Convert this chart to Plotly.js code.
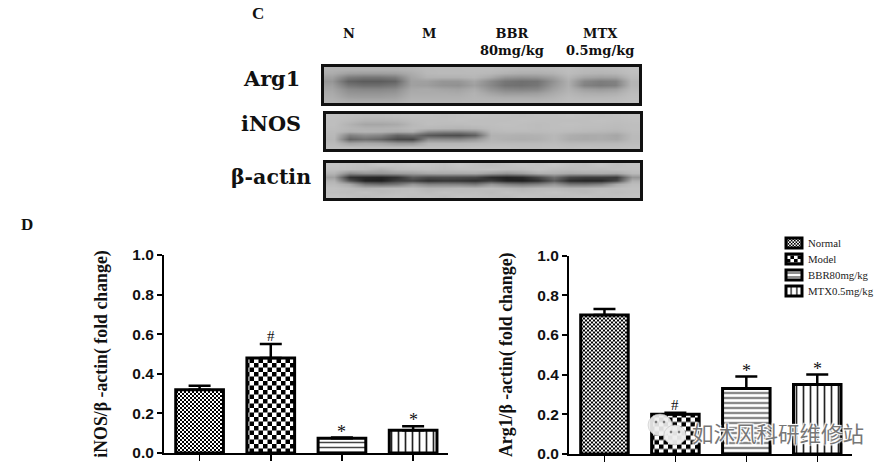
<!DOCTYPE html>
<html><head><meta charset="utf-8">
<script src="https://cdn.plot.ly/plotly-3.0.1.min.js"></script>
<style>html,body{margin:0;padding:0;background:#fff}#c{width:894px;height:472px}</style></head>
<body><div id="c"></div>
<script>
const groups = ['Normal','Model','BBR80mg/kg','MTX0.5mg/kg'];
const inosValues = [0.32,0.48,0.075,0.115];
const inosErrors = [0.02,0.07,0.003,0.02];
const arg1Values = [0.70,0.20,0.33,0.35];
const arg1Errors = [0.03,0.008,0.06,0.05];
const inosMarks = ['','#','*','*'];
const arg1Marks = ['','#','*','*'];
const yTicks = [0,0.2,0.4,0.6,0.8,1.0];
const laneLabels = ['N','M','BBR<br>80mg/kg','MTX<br>0.5mg/kg'];
const blotArg1 = [
[178,178,178,178,178,180,185,186,186,188,188,186,184,184,186,190,186,186,188,192],
[172,160,158,158,160,172,184,186,186,186,184,178,174,174,178,188,182,180,182,190],
[160,125,118,118,125,165,178,178,178,182,170,150,145,148,160,182,165,160,162,186],
[150,100,92,92,100,160,160,150,150,165,140,118,112,115,145,175,135,125,130,180],
[158,118,110,110,118,160,158,148,145,160,138,115,112,118,150,175,130,122,128,180],
[165,140,135,135,140,168,170,165,162,172,150,135,132,135,160,178,160,155,160,184],
[170,150,148,148,152,172,172,172,170,178,165,155,155,158,170,182,174,172,175,188],
[174,160,158,158,162,176,176,176,176,180,176,172,172,172,178,186,182,182,184,190],
[178,172,172,172,172,180,180,180,180,182,182,182,182,182,184,188,188,188,188,192]];
const blotInos = [
[192,190,188,188,190,192,192,190,192,194,192,192,190,192,192,194,192,190,192,194],
[190,186,180,180,182,188,190,190,192,190,190,190,192,190,190,190,190,192,190,192],
[190,178,166,166,170,184,190,188,188,190,190,192,190,188,190,192,190,190,188,190],
[188,182,178,178,180,186,184,182,180,182,188,190,190,188,190,190,188,188,186,190],
[186,176,180,178,172,176,138,130,130,140,184,186,186,186,188,186,184,182,180,188],
[184,128,140,132,100,110,88,80,78,96,178,178,176,178,184,174,170,172,166,186],
[182,100,112,100,72,70,140,138,136,150,180,176,174,176,184,172,170,172,168,186],
[186,162,168,164,150,150,180,180,180,182,186,186,186,186,188,184,184,184,184,188],
[190,190,188,188,188,190,190,190,190,192,192,192,190,190,192,190,192,190,190,192]];
const blotActin = [
[196,194,190,196,194,198,196,192,198,192,188,192,196,194,198,192,190,196,190,194],
[192,190,186,176,188,190,192,188,192,192,194,190,190,196,190,188,190,188,192,192],
[180,140,150,150,156,160,168,170,170,172,160,150,160,176,176,170,172,174,170,186],
[160,50,40,36,50,90,74,76,74,70,44,34,40,70,110,68,60,60,58,150],
[178,84,34,30,60,66,46,52,50,44,60,34,30,46,90,42,36,38,70,176],
[186,168,120,110,120,150,130,132,130,120,150,130,120,130,150,120,118,130,170,188],
[192,188,180,184,186,188,180,182,186,184,188,184,180,186,186,182,184,188,190,192],
[190,188,192,186,190,192,186,192,188,190,186,192,188,190,194,190,186,192,188,192],
[194,192,188,192,194,190,192,188,194,192,190,188,194,192,190,192,194,190,192,194]];

const W=894,H=472;
const dx=(a,b)=>[a/W,b/W], dy=(t,b)=>[1-b/H,1-t/H];
const serif='"Liberation Serif"', wide='"DejaVu Serif"', sans='"Liberation Sans"';
const patterns=[
 {shape:'.',size:4,solidity:0.5,fgcolor:'#000',bgcolor:'#fff',fillmode:'replace'},
 {shape:'.',size:9,solidity:0.5,fgcolor:'#000',bgcolor:'#fff',fillmode:'replace'},
 {shape:'-',size:5,solidity:0.3,fgcolor:'#444',bgcolor:'#fff',fillmode:'replace'},
 {shape:'|',size:7,solidity:0.24,fgcolor:'#222',bgcolor:'#fff',fillmode:'replace'}];
function bars(vals,errs,xa,ya,legend){
 return groups.map((g,i)=>({type:'bar',name:g,x:[g],y:[vals[i]],xaxis:xa,yaxis:ya,width:0.67,showlegend:legend,
  marker:{color:'#fff',pattern:patterns[i],line:{color:'#000',width:3}},
  error_y:{type:'data',array:[errs[i]],arrayminus:[0],symmetric:false,color:'#000',thickness:2.5,width:11}}));
}
function blot(z,xa,ya){return {type:'heatmap',z:z,xaxis:xa,yaxis:ya,zmin:0,zmax:255,zsmooth:'best',showscale:false,hoverinfo:'skip',
 colorscale:[[0,'#000'],[1,'#fff']]};}
const traces=[...bars(inosValues,inosErrors,'x','y',false),...bars(arg1Values,arg1Errors,'x2','y2',true),
 blot(blotArg1,'x3','y3'),blot(blotInos,'x4','y4'),blot(blotActin,'x5','y5')];
const xBase=(dom,range)=>({domain:dom,range:range,type:'category',categoryorder:'array',categoryarray:groups,showgrid:false,zeroline:false,
 showticklabels:false,ticks:'outside',ticklen:6,tickwidth:1.5,tickcolor:'#000',showline:true,linecolor:'#000',linewidth:2,fixedrange:true});
const yBase=(dom,anchor,title)=>({domain:dom,anchor:anchor,range:[0,1],tickvals:yTicks,ticktext:yTicks.map(v=>'<b>'+v.toFixed(1)+'</b>'),showgrid:false,zeroline:false,
 ticks:'outside',ticklen:5,tickwidth:2,tickcolor:'#000',showline:true,linecolor:'#000',linewidth:2,
 tickfont:{family:sans,size:15.5,color:'#111'},
 title:{text:'<b>'+title+'</b>',font:{family:serif,size:17.8,color:'#111'},standoff:20}});
const blotX=dom=>({domain:dom,visible:true,showticklabels:false,ticks:'',showgrid:false,zeroline:false,mirror:true,showline:true,linecolor:'#111',linewidth:3,fixedrange:true});
const blotY=(dom,a)=>({domain:dom,anchor:a,autorange:'reversed',showticklabels:false,ticks:'',showgrid:false,zeroline:false,mirror:true,showline:true,linecolor:'#111',linewidth:3,fixedrange:true});
const txt=(t,x,y,size,extra)=>Object.assign({text:t,xref:'paper',yref:'paper',x:x/W,y:1-y/H,showarrow:false,xanchor:'center',yanchor:'middle',
 font:{family:serif,size:size,color:'#111'}},extra||{});
const anns=[txt('<b>C</b>',258,13,17),txt('<b>D</b>',27,224,17)];
[349,429,512,600].forEach((x,i)=>anns.push(txt('<b>'+laneLabels[i]+'</b>',x,i<2?33:42,13,{align:'center',font:{family:wide,size:13,color:'#111'}})));
[['Arg1',271,78,20.8],['iNOS',271,124,20.8],['β-actin',271,177,20.5]].forEach(a=>anns.push(txt('<b>'+a[0]+'</b>',a[1],a[2],a[3],{font:{family:wide,size:a[3],color:'#111'}})));
function marks(ms,vals,errs,xa,ya){ms.forEach((m,i)=>{if(m)anns.push({text:m,x:groups[i],y:vals[i]+errs[i],xref:xa,yref:ya,showarrow:false,yanchor:'bottom',
 yshift:m==='#'?-2:-6,font:{family:serif,size:m==='#'?15:18,color:'#111'}});});}
marks(inosMarks,inosValues,inosErrors,'x','y');
marks(arg1Marks,arg1Values,arg1Errors,'x2','y2');
anns.push(txt('如沐风科研维修站',778,432,21.5,{font:{family:'"Noto Sans CJK SC"',size:21.5,color:'#777',
 shadow:'1px 1px 1px #fff,-1px -1px 1px #fff,1px -1px 1px #fff,-1px 1px 1px #fff'}}));
const bubble=(cx,cy,rx,ry,fill,op)=>({type:'circle',xref:'paper',yref:'paper',x0:(cx-rx)/W,x1:(cx+rx)/W,y0:1-(cy+ry)/H,y1:1-(cy-ry)/H,fillcolor:fill,opacity:op,line:{color:'#bbb',width:0.5},layer:'above'});
const shapes=[bubble(660,425,12,11,'#eee',0.92),bubble(675,435,11,10,'#eee',0.95),
 bubble(656,422,1.2,1.2,'#555',1),bubble(664,422,1.2,1.2,'#555',1),bubble(671,432,1.2,1.2,'#555',1),bubble(679,432,1.2,1.2,'#555',1)];
const layout={width:W,height:H,margin:{l:0,r:0,t:0,b:0},paper_bgcolor:'#fff',plot_bgcolor:'#fff',barmode:'overlay',
 xaxis:xBase(dx(164,448),[-0.5,3.49]),yaxis:yBase(dy(255,453),'x','iNOS/β -actin( fold change)'),
 xaxis2:Object.assign(xBase(dx(569,852),[-0.5,3.49]),{anchor:'y2'}),yaxis2:yBase(dy(255.5,454),'x2','Arg1/β -actin( fold change)'),
 xaxis3:Object.assign(blotX(dx(324,639)),{anchor:'y3'}),yaxis3:blotY(dy(67,103),'x3'),
 xaxis4:Object.assign(blotX(dx(326,640)),{anchor:'y4'}),yaxis4:blotY(dy(114,149),'x4'),
 xaxis5:Object.assign(blotX(dx(326,640)),{anchor:'y5'}),yaxis5:blotY(dy(163,198),'x5'),
 legend:{x:768/W,y:1-234/H,xanchor:'left',yanchor:'top',bgcolor:'rgba(0,0,0,0)',font:{family:serif,size:10.8,color:'#222'},tracegroupgap:0,itemclick:false,itemdoubleclick:false},
 annotations:anns,shapes:shapes};
Plotly.newPlot('c',traces,layout,{displayModeBar:false,staticPlot:true}).then(gd=>{
 // checker fills: Plotly's dot pattern carries one dot per tile; the GraphPad hatch has two square cells.
 gd.querySelectorAll('pattern').forEach(p=>{
  const c=p.querySelector('circle'); if(!c) return;
  const s=parseFloat(p.getAttribute('width')), fill=c.getAttribute('fill')||c.style.fill;
  c.remove();
  [[0,0],[s/2,s/2]].forEach(o=>{
   const r=document.createElementNS('http://www.w3.org/2000/svg','rect');
   r.setAttribute('x',o[0]);r.setAttribute('y',o[1]);r.setAttribute('width',s/2);r.setAttribute('height',s/2);
   r.setAttribute('fill',fill||'#000');p.appendChild(r);
  });
 });
 // compact legend rows and GraphPad-shaped swatches
 gd.querySelectorAll('.legend .traces').forEach((g,i)=>{
  const m=/translate\(([^,]+),/.exec(g.getAttribute('transform'));
  g.setAttribute('transform','translate('+(m?m[1]:0)+','+(9+i*16)+')');
  const sym=g.querySelector('.legendsymbols'); if(sym) sym.setAttribute('transform','translate(6,0)');
 });
 gd.querySelectorAll('.legend .legendpoints path').forEach(p=>p.setAttribute('d','M8,5H-8V-5H8Z'));
});
</script></body></html>
